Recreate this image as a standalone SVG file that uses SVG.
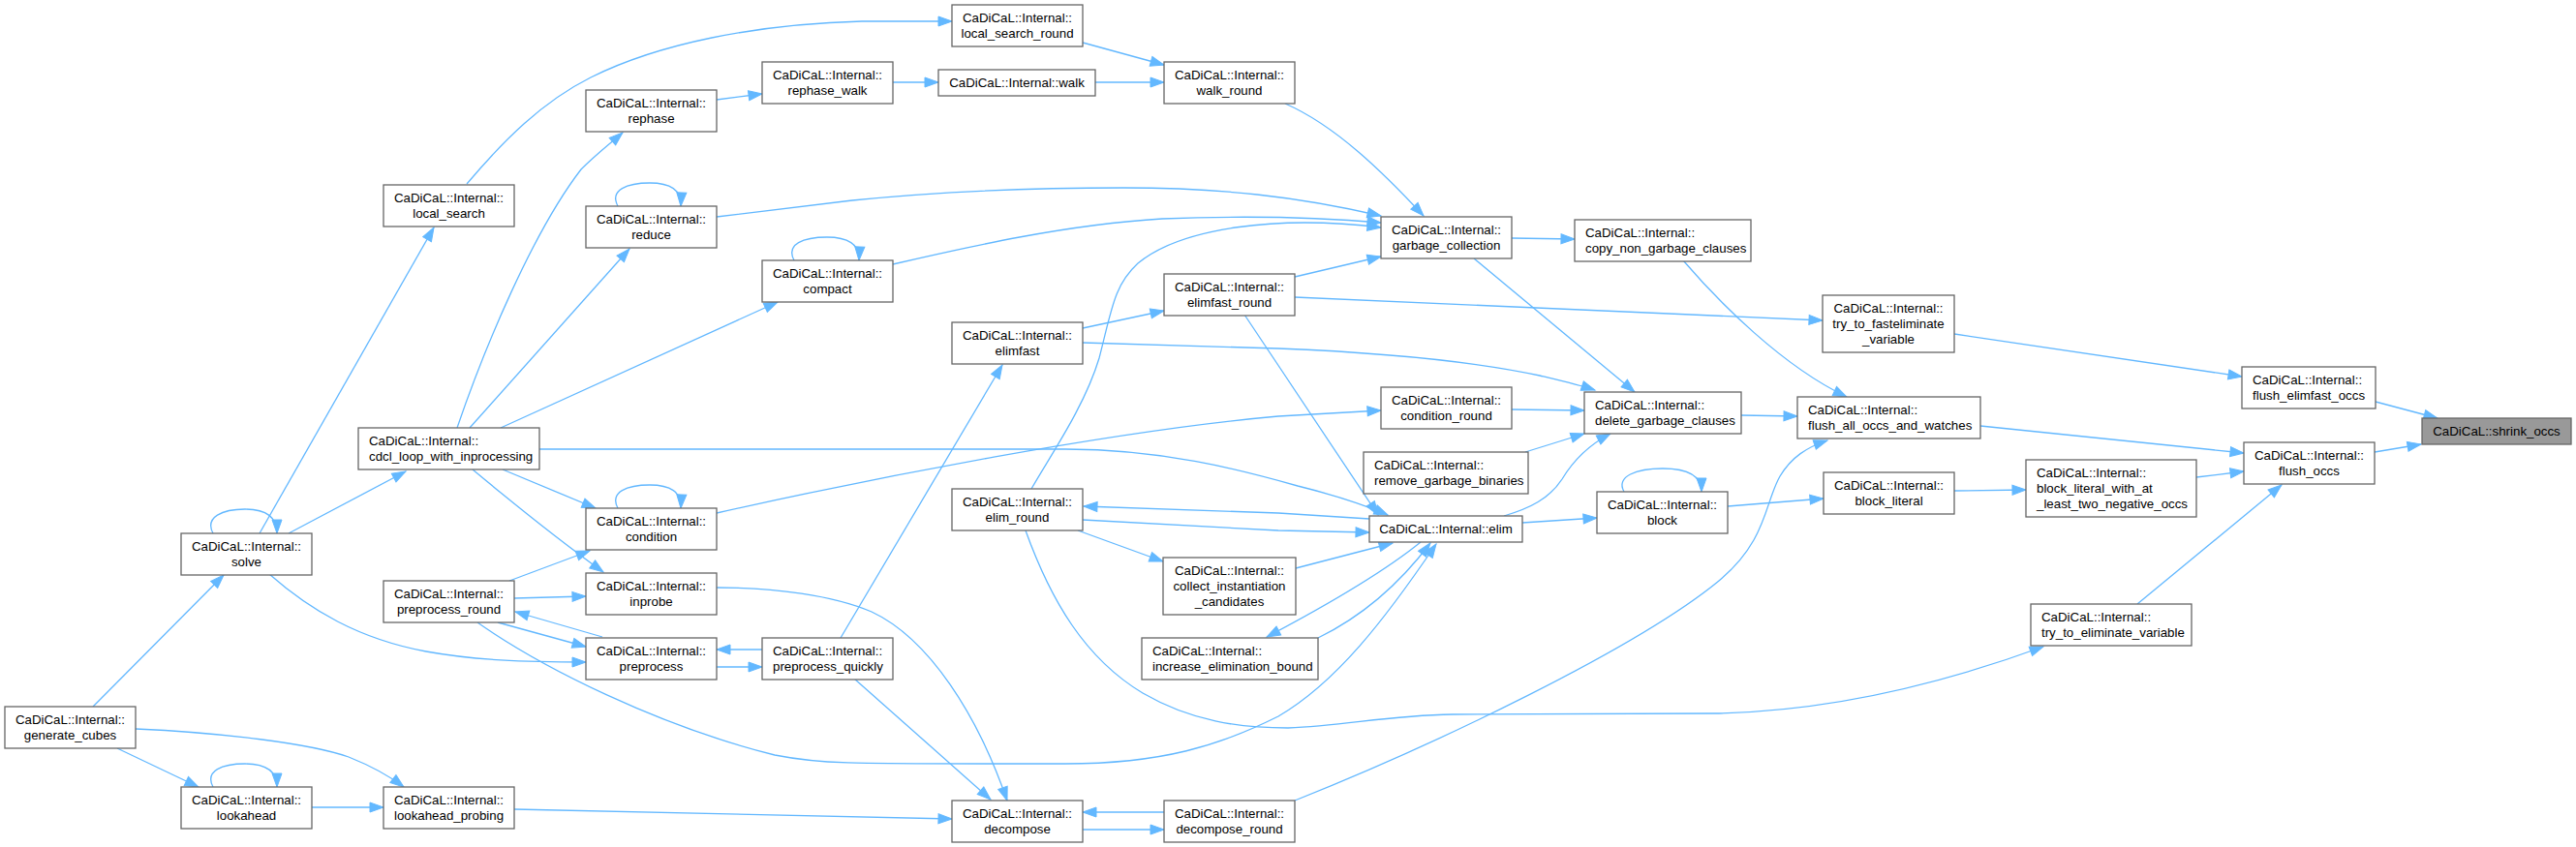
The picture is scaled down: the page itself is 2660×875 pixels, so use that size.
<svg xmlns="http://www.w3.org/2000/svg" width="2660" height="875" viewBox="0 0 2660 875">
<style>
.node rect{fill:#fff;stroke:#666;stroke-width:1.3}
.node.hl rect{fill:#999}
text{font-family:"Liberation Sans",Arial,Helvetica,sans-serif;font-size:13.3px;fill:#000}
.m{text-anchor:middle}
.s{text-anchor:start}
#edges path{fill:none;stroke:#63b8ff;stroke-width:1.3;marker-end:url(#ah)}
</style>
<defs>
<marker id="ah" markerWidth="15" markerHeight="11" refX="14" refY="5" orient="auto" markerUnits="userSpaceOnUse" overflow="visible">
<path d="M0,0 L14,5 L0,10 z" fill="#63b8ff" stroke="#63b8ff" stroke-width="1"/>
</marker>
</defs>
<rect width="2660" height="875" fill="#fff"/>
<g id="edges">
<path d="M2452,467 L2500,459"/>
<path d="M2453,415 L2517,432"/>
<path d="M2018,345 L2315,389"/>
<path d="M2045,440 L2317,468"/>
<path d="M2268,493 L2317,487"/>
<path d="M2207,624 L2356,501"/>
<path d="M2018,507 L2092,506"/>
<path d="M1784,523 L1883,515"/>
<path d="M1677,508 C1668,492 1690,484 1717,484 C1740,484 1757,490 1757,508"/>
<path d="M1572,540 L1649,535"/>
<path d="M1553,533 C1580,525 1600,515 1613,495 C1625,475 1640,460 1663,448"/>
<path d="M1575,467 L1636,448"/>
<path d="M1561,423 L1636,424"/>
<path d="M1522,267 L1688,405"/>
<path d="M1561,246 L1626,247"/>
<path d="M1738,269 C1775,312 1840,378 1907,410"/>
<path d="M1798,429 L1856,430"/>
<path d="M1337,827 C1480,770 1690,670 1775,600 C1825,558 1822,520 1838,492 C1850,472 1866,462 1887,455"/>
<path d="M1059,548 C1085,620 1120,680 1180,716 C1230,745 1280,752 1330,752 C1390,750 1430,739 1500,738 L1770,737 C1880,735 1990,712 2110,668"/>
<path d="M1414,536 L1320,530 L1119,523"/>
<path d="M1118,537 L1320,548 L1414,550"/>
<path d="M1113,548 L1201,580"/>
<path d="M1338,587 L1438,561"/>
<path d="M1467,560 C1430,590 1380,620 1308,658"/>
<path d="M1361,659 C1400,640 1440,610 1477,561"/>
<path d="M493,643 C560,690 680,750 800,780 C850,790 880,789 1100,789 C1200,789 1260,770 1320,740 C1380,705 1430,640 1483,562"/>
<path d="M557,464 L1100,464 C1200,464 1280,485 1340,502 C1380,512 1410,522 1433,532"/>
<path d="M1285,325 L1423,532"/>
<path d="M1337,286 L1426,265"/>
<path d="M1337,307 L1882,331"/>
<path d="M1118,339 L1202,321"/>
<path d="M1118,354 L1320,360 C1420,364 1520,373 1590,388 C1615,394 1632,398 1647,403"/>
<path d="M868,659 L1035,377"/>
<path d="M1327,107 C1380,130 1430,180 1470,223"/>
<path d="M1118,44 L1202,67"/>
<path d="M1131,85 L1202,85"/>
<path d="M922,85 L969,85"/>
<path d="M740,103 L787,97"/>
<path d="M482,190 C520,145 560,105 610,80 C680,45 780,25 890,22 L983,22"/>
<path d="M740,224 L880,207 C1000,195 1100,194 1160,194 C1260,194 1340,203 1426,223"/>
<path d="M922,273 C1000,255 1100,232 1200,226 C1300,222 1380,226 1426,230"/>
<path d="M1065,505 C1085,470 1120,420 1135,370 C1148,320 1150,295 1175,272 C1220,235 1320,222 1426,235"/>
<path d="M820,269 C811,252 830,245 854,245 C875,245 888,252 887,269"/>
<path d="M638,213 C629,196 648,189 671,189 C692,189 704,196 703,213"/>
<path d="M638,525 C629,508 648,501 671,501 C692,501 704,508 703,525"/>
<path d="M220,551 C211,534 230,526 253,526 C274,526 286,533 286,551"/>
<path d="M220,813 C211,796 230,789 253,789 C274,789 286,796 286,813"/>
<path d="M268,551 L448,235"/>
<path d="M298,551 L419,487"/>
<path d="M96,730 L231,594"/>
<path d="M121,773 L205,813"/>
<path d="M140,753 C230,757 320,768 360,782 C380,790 400,800 417,813"/>
<path d="M322,834 L396,834"/>
<path d="M531,836 L983,846"/>
<path d="M278,593 C320,630 370,660 440,673 C490,682 540,684 605,684"/>
<path d="M472,442 C500,360 550,240 600,175 C615,160 628,150 643,137"/>
<path d="M485,442 L650,257"/>
<path d="M517,442 L803,312"/>
<path d="M519,485 L615,525"/>
<path d="M488,485 C530,520 580,560 623,591"/>
<path d="M526,600 L609,569"/>
<path d="M531,618 L605,616"/>
<path d="M622,658 L532,632"/>
<path d="M514,643 L605,668"/>
<path d="M787,671 L740,671"/>
<path d="M740,689 L787,689"/>
<path d="M740,530 C900,494 1150,445 1320,430 L1426,424"/>
<path d="M740,607 C800,607 860,615 900,632 C960,660 1010,740 1040,827"/>
<path d="M882,701 L1023,826"/>
<path d="M1118,857 L1202,857"/>
<path d="M1202,839 L1118,839"/>
</g>
<g id="n_shrink_occs" class="node hl"><rect x="2501" y="432" width="154" height="27"/><text class="m" x="2578" y="450">CaDiCaL::shrink_occs</text></g>
<g id="n_flush_occs" class="node"><rect x="2317" y="457" width="135" height="43"/><text class="m" x="2384.5" y="475">CaDiCaL::Internal::</text><text class="m" x="2384.5" y="491">flush_occs</text></g>
<g id="n_flush_elimfast_occs" class="node"><rect x="2315" y="379" width="138" height="43"/><text class="s" x="2326" y="397">CaDiCaL::Internal::</text><text class="s" x="2326" y="413">flush_elimfast_occs</text></g>
<g id="n_try_to_fasteliminate_variable" class="node"><rect x="1882" y="305" width="136" height="59"/><text class="m" x="1950" y="323">CaDiCaL::Internal::</text><text class="m" x="1950" y="339">try_to_fasteliminate</text><text class="m" x="1950" y="355">_variable</text></g>
<g id="n_flush_all_occs_and_watches" class="node"><rect x="1856" y="410" width="189" height="43"/><text class="s" x="1867" y="428">CaDiCaL::Internal::</text><text class="s" x="1867" y="444">flush_all_occs_and_watches</text></g>
<g id="n_block_literal" class="node"><rect x="1883" y="488" width="135" height="43"/><text class="m" x="1950.5" y="506">CaDiCaL::Internal::</text><text class="m" x="1950.5" y="522">block_literal</text></g>
<g id="n_block_literal_with_at_least_two_negative_occs" class="node"><rect x="2092" y="475" width="176" height="59"/><text class="s" x="2103" y="493">CaDiCaL::Internal::</text><text class="s" x="2103" y="509">block_literal_with_at</text><text class="s" x="2103" y="525">_least_two_negative_occs</text></g>
<g id="n_try_to_eliminate_variable" class="node"><rect x="2097" y="624" width="166" height="43"/><text class="s" x="2108" y="642">CaDiCaL::Internal::</text><text class="s" x="2108" y="658">try_to_eliminate_variable</text></g>
<g id="n_block" class="node"><rect x="1649" y="508" width="135" height="43"/><text class="m" x="1716.5" y="526">CaDiCaL::Internal::</text><text class="m" x="1716.5" y="542">block</text></g>
<g id="n_delete_garbage_clauses" class="node"><rect x="1636" y="405" width="162" height="43"/><text class="s" x="1647" y="423">CaDiCaL::Internal::</text><text class="s" x="1647" y="439">delete_garbage_clauses</text></g>
<g id="n_copy_non_garbage_clauses" class="node"><rect x="1626" y="227" width="182" height="43"/><text class="s" x="1637" y="245">CaDiCaL::Internal::</text><text class="s" x="1637" y="261">copy_non_garbage_clauses</text></g>
<g id="n_remove_garbage_binaries" class="node"><rect x="1408" y="467" width="170" height="43"/><text class="s" x="1419" y="485">CaDiCaL::Internal::</text><text class="s" x="1419" y="501">remove_garbage_binaries</text></g>
<g id="n_elim" class="node"><rect x="1414" y="533" width="158" height="27"/><text class="m" x="1493" y="551">CaDiCaL::Internal::elim</text></g>
<g id="n_garbage_collection" class="node"><rect x="1426" y="224" width="135" height="43"/><text class="m" x="1493.5" y="242">CaDiCaL::Internal::</text><text class="m" x="1493.5" y="258">garbage_collection</text></g>
<g id="n_condition_round" class="node"><rect x="1426" y="400" width="135" height="43"/><text class="m" x="1493.5" y="418">CaDiCaL::Internal::</text><text class="m" x="1493.5" y="434">condition_round</text></g>
<g id="n_walk_round" class="node"><rect x="1202" y="64" width="135" height="43"/><text class="m" x="1269.5" y="82">CaDiCaL::Internal::</text><text class="m" x="1269.5" y="98">walk_round</text></g>
<g id="n_elimfast_round" class="node"><rect x="1202" y="283" width="135" height="43"/><text class="m" x="1269.5" y="301">CaDiCaL::Internal::</text><text class="m" x="1269.5" y="317">elimfast_round</text></g>
<g id="n_collect_instantiation_candidates" class="node"><rect x="1201" y="576" width="137" height="59"/><text class="m" x="1269.5" y="594">CaDiCaL::Internal::</text><text class="m" x="1269.5" y="610">collect_instantiation</text><text class="m" x="1269.5" y="626">_candidates</text></g>
<g id="n_increase_elimination_bound" class="node"><rect x="1179" y="659" width="182" height="43"/><text class="s" x="1190" y="677">CaDiCaL::Internal::</text><text class="s" x="1190" y="693">increase_elimination_bound</text></g>
<g id="n_decompose_round" class="node"><rect x="1202" y="827" width="135" height="43"/><text class="m" x="1269.5" y="845">CaDiCaL::Internal::</text><text class="m" x="1269.5" y="861">decompose_round</text></g>
<g id="n_local_search_round" class="node"><rect x="983" y="5" width="135" height="43"/><text class="m" x="1050.5" y="23">CaDiCaL::Internal::</text><text class="m" x="1050.5" y="39">local_search_round</text></g>
<g id="n_walk" class="node"><rect x="969" y="72" width="162" height="27"/><text class="m" x="1050" y="90">CaDiCaL::Internal::walk</text></g>
<g id="n_elimfast" class="node"><rect x="983" y="333" width="135" height="43"/><text class="m" x="1050.5" y="351">CaDiCaL::Internal::</text><text class="m" x="1050.5" y="367">elimfast</text></g>
<g id="n_elim_round" class="node"><rect x="983" y="505" width="135" height="43"/><text class="m" x="1050.5" y="523">CaDiCaL::Internal::</text><text class="m" x="1050.5" y="539">elim_round</text></g>
<g id="n_decompose" class="node"><rect x="983" y="827" width="135" height="43"/><text class="m" x="1050.5" y="845">CaDiCaL::Internal::</text><text class="m" x="1050.5" y="861">decompose</text></g>
<g id="n_rephase_walk" class="node"><rect x="787" y="64" width="135" height="43"/><text class="m" x="854.5" y="82">CaDiCaL::Internal::</text><text class="m" x="854.5" y="98">rephase_walk</text></g>
<g id="n_compact" class="node"><rect x="787" y="269" width="135" height="43"/><text class="m" x="854.5" y="287">CaDiCaL::Internal::</text><text class="m" x="854.5" y="303">compact</text></g>
<g id="n_preprocess_quickly" class="node"><rect x="787" y="659" width="135" height="43"/><text class="s" x="798" y="677">CaDiCaL::Internal::</text><text class="s" x="798" y="693">preprocess_quickly</text></g>
<g id="n_rephase" class="node"><rect x="605" y="93" width="135" height="43"/><text class="m" x="672.5" y="111">CaDiCaL::Internal::</text><text class="m" x="672.5" y="127">rephase</text></g>
<g id="n_reduce" class="node"><rect x="605" y="213" width="135" height="43"/><text class="m" x="672.5" y="231">CaDiCaL::Internal::</text><text class="m" x="672.5" y="247">reduce</text></g>
<g id="n_condition" class="node"><rect x="605" y="525" width="135" height="43"/><text class="m" x="672.5" y="543">CaDiCaL::Internal::</text><text class="m" x="672.5" y="559">condition</text></g>
<g id="n_inprobe" class="node"><rect x="605" y="592" width="135" height="43"/><text class="m" x="672.5" y="610">CaDiCaL::Internal::</text><text class="m" x="672.5" y="626">inprobe</text></g>
<g id="n_preprocess" class="node"><rect x="605" y="659" width="135" height="43"/><text class="m" x="672.5" y="677">CaDiCaL::Internal::</text><text class="m" x="672.5" y="693">preprocess</text></g>
<g id="n_local_search" class="node"><rect x="396" y="191" width="135" height="43"/><text class="m" x="463.5" y="209">CaDiCaL::Internal::</text><text class="m" x="463.5" y="225">local_search</text></g>
<g id="n_cdcl_loop_with_inprocessing" class="node"><rect x="370" y="442" width="187" height="43"/><text class="s" x="381" y="460">CaDiCaL::Internal::</text><text class="s" x="381" y="476">cdcl_loop_with_inprocessing</text></g>
<g id="n_preprocess_round" class="node"><rect x="396" y="600" width="135" height="43"/><text class="m" x="463.5" y="618">CaDiCaL::Internal::</text><text class="m" x="463.5" y="634">preprocess_round</text></g>
<g id="n_lookahead_probing" class="node"><rect x="396" y="813" width="135" height="43"/><text class="m" x="463.5" y="831">CaDiCaL::Internal::</text><text class="m" x="463.5" y="847">lookahead_probing</text></g>
<g id="n_solve" class="node"><rect x="187" y="551" width="135" height="43"/><text class="m" x="254.5" y="569">CaDiCaL::Internal::</text><text class="m" x="254.5" y="585">solve</text></g>
<g id="n_lookahead" class="node"><rect x="187" y="813" width="135" height="43"/><text class="m" x="254.5" y="831">CaDiCaL::Internal::</text><text class="m" x="254.5" y="847">lookahead</text></g>
<g id="n_generate_cubes" class="node"><rect x="5" y="730" width="135" height="43"/><text class="m" x="72.5" y="748">CaDiCaL::Internal::</text><text class="m" x="72.5" y="764">generate_cubes</text></g>
</svg>
